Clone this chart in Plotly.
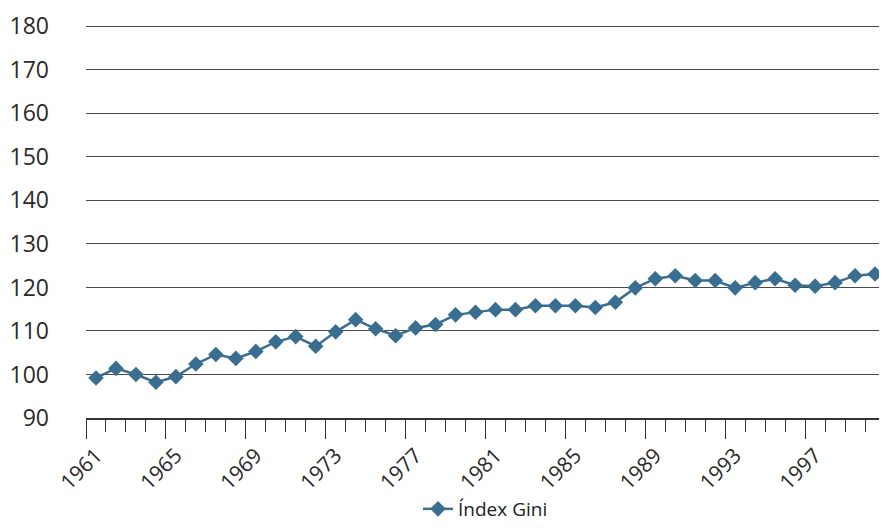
import plotly.graph_objects as go

years = list(range(1961, 2001))
gini = [99.2, 101.4, 100.0, 98.2, 99.5, 102.4, 104.6, 103.7, 105.3, 107.5,
        108.7, 106.5, 109.8, 112.6, 110.5, 108.9, 110.7, 111.5, 113.7, 114.3,
        114.9, 114.9, 115.8, 115.8, 115.8, 115.4, 116.6, 119.9, 122.0, 122.7,
        121.6, 121.6, 119.9, 121.1, 122.0, 120.5, 120.3, 121.1, 122.7, 123.1]
label_years = list(range(1961, 2000, 4))
y_ticks = list(range(90, 190, 10))

line_color = "#3a6e91"
axis_color = "#333333"

fig = go.Figure()
fig.add_trace(go.Scatter(
    x=years, y=gini, mode="lines+markers", name="Índex Gini",
    line=dict(color=line_color, width=2.5),
    marker=dict(symbol="diamond", size=12, color=line_color),
))
# invisible trace to carry xaxis2 (rotated year labels)
fig.add_trace(go.Scatter(x=[years[0]], y=[gini[0]], xaxis="x2", mode="markers",
                         marker=dict(opacity=0), showlegend=False, hoverinfo="skip"))

rng = [years[0] - 0.5, years[-1] + 0.5]
# the page body adds an 8px offset, so the figure is 8px smaller and margins shifted
fig.update_layout(
    width=879, height=520,
    margin=dict(l=78, r=2, t=17, b=110),
    paper_bgcolor="white", plot_bgcolor="white",
    font=dict(family="Open Sans", color="#2a2a2a"),
    showlegend=True,
    legend=dict(orientation="h", x=0.5, xanchor="center", yref="container",
                y=0.0, yanchor="bottom", font=dict(size=19, color="#222"),
                itemwidth=30),
    xaxis=dict(range=rng, showgrid=False, zeroline=False, showline=True,
               linecolor=axis_color, linewidth=1.5, automargin=False,
               tickmode="linear", tick0=rng[0], dtick=4, ticks="outside",
               ticklen=19, tickcolor=axis_color, tickwidth=1.3, showticklabels=False,
               minor=dict(tickmode="linear", tick0=rng[0], dtick=1, ticks="outside",
                          ticklen=12, tickcolor=axis_color, tickwidth=1.3, showgrid=False)),
    xaxis2=dict(range=rng, overlaying="x", anchor="y", side="bottom",
                showgrid=False, zeroline=False, showline=False, automargin=False,
                tickmode="array", tickvals=label_years,
                ticktext=[str(v) for v in label_years],
                tickangle=-45, ticks="", tickfont=dict(size=21, color="#2a2a2a"),
                ticklabelstandoff=20),
    yaxis=dict(range=[90, 180.3], tickmode="array", tickvals=y_ticks,
               showgrid=True, gridcolor="#4a4a4a", gridwidth=1, zeroline=False,
               showline=False, ticks="", automargin=False,
               tickfont=dict(size=23, color="#2a2a2a"),
               ticklabelstandoff=36),
)
fig.write_html("out.html")
